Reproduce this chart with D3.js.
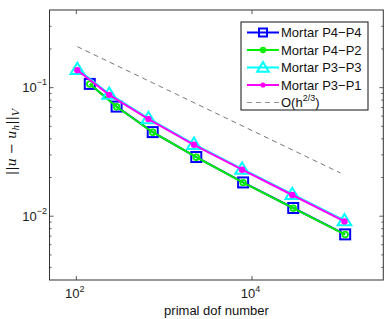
<!DOCTYPE html>
<html>
<head>
<meta charset="utf-8">
<script src="https://cdn.jsdelivr.net/npm/d3@7"></script>
<style>
  body { margin: 0; background: #fff; }
  svg { display: block; font-family: "Liberation Sans", Arial, sans-serif; }
</style>
</head>
<body>
<svg id="chart" width="390" height="319"></svg>
<script>
// dof counts
const dofP4 = [144, 291, 750, 2350, 8020, 29850, 116400];
const dofP3 = [104, 240, 670, 2210, 7810, 29100, 114300];

const errP4P4 = [0.106, 0.0706, 0.0447, 0.0286, 0.01815, 0.01148, 0.00716];
const errP4P2 = [0.1058, 0.0704, 0.0446, 0.0285, 0.0181, 0.01145, 0.00714];
const errP3P3 = [0.138, 0.0885, 0.0572, 0.0361, 0.0231, 0.0147, 0.00918];
const errP3P1 = [0.1355, 0.0871, 0.0564, 0.0356, 0.0228, 0.01449, 0.00903];

// reference slope line, two end points
const refX = [104, 102600];
const refY = [0.2065, 0.0215];

const xTicks = [1e2, 1e4];
const yTicks = [1e-2, 1e-1];
const yMinor = [];
[1e-3, 1e-2, 1e-1].forEach(p => { for (let k = 2; k <= 9; k++) yMinor.push(p * k); });

const series = [
  { name: "Mortar P4\u2212P4", x: dofP4, y: errP4P4, color: "#0000ff", marker: "square" },
  { name: "Mortar P4\u2212P2", x: dofP4, y: errP4P2, color: "#00ee00", marker: "circle" },
  { name: "Mortar P3\u2212P3", x: dofP3, y: errP3P3, color: "#00ffff", marker: "triangle" },
  { name: "Mortar P3\u2212P1", x: dofP3, y: errP3P1, color: "#ff00ff", marker: "dot" }
];

const svg = d3.select("#chart");
const L = 49.5, R = 383.3, T = 10, B = 280;

const x = d3.scaleLog().domain([Math.pow(10, 1.7), Math.pow(10, 5.5)]).range([L, R]);
const y = d3.scaleLog().domain([Math.pow(10, -2.5), Math.pow(10, -0.4)]).range([B, T]);

svg.append("defs").append("clipPath").attr("id", "clip")
  .append("rect").attr("x", L).attr("y", T).attr("width", R - L).attr("height", B - T);

// axes, ticks pointing inward
function styleAxis(g) {
  g.select(".domain").remove();
  g.selectAll(".tick line").attr("stroke", "#333").attr("stroke-width", 0.8);
}
svg.append("g").attr("transform", `translate(0,${B})`)
  .call(d3.axisBottom(x).tickValues(xTicks).tickSize(-4).tickFormat("")).call(styleAxis);
svg.append("g").attr("transform", `translate(0,${T})`)
  .call(d3.axisTop(x).tickValues(xTicks).tickSize(-4).tickFormat("")).call(styleAxis);
svg.append("g").attr("transform", `translate(${L},0)`)
  .call(d3.axisLeft(y).tickValues(yTicks).tickSize(-4).tickFormat("")).call(styleAxis);
svg.append("g").attr("transform", `translate(${R},0)`)
  .call(d3.axisRight(y).tickValues(yTicks).tickSize(-4).tickFormat("")).call(styleAxis);
svg.append("g").attr("transform", `translate(${L},0)`)
  .call(d3.axisLeft(y).tickValues(yMinor.filter(v => v >= y.domain()[0] && v <= y.domain()[1])).tickSize(-2).tickFormat("")).call(styleAxis);
svg.append("g").attr("transform", `translate(${R},0)`)
  .call(d3.axisRight(y).tickValues(yMinor.filter(v => v >= y.domain()[0] && v <= y.domain()[1])).tickSize(-2).tickFormat("")).call(styleAxis);

// tick labels with superscripts
xTicks.forEach(v => {
  const t = svg.append("text").attr("x", x(v) - 1).attr("y", 297.5)
    .attr("text-anchor", "middle").attr("font-size", 13).attr("fill", "#222");
  t.append("tspan").text("10");
  t.append("tspan").attr("dy", -6).attr("font-size", 9).text(Math.round(Math.log10(v)));
});
yTicks.forEach(v => {
  const t = svg.append("text").attr("x", 47).attr("y", y(v) + 5)
    .attr("text-anchor", "end").attr("font-size", 13).attr("fill", "#222");
  t.append("tspan").text("10");
  t.append("tspan").attr("dy", -7).attr("font-size", 9).text("\u2212" + Math.abs(Math.round(Math.log10(v))));
});

// frame
svg.append("rect").attr("x", L).attr("y", T).attr("width", R - L).attr("height", B - T)
  .attr("fill", "none").attr("stroke", "#333").attr("stroke-width", 1);

const plot = svg.append("g").attr("clip-path", "url(#clip)");

// reference line
plot.append("path")
  .datum(refX.map((v, i) => [v, refY[i]]))
  .attr("d", d3.line().x(d => x(d[0])).y(d => y(d[1])))
  .attr("fill", "none").attr("stroke", "#555").attr("stroke-width", 0.8)
  .attr("stroke-dasharray", "5,4");

function drawMarker(g, type, color, cx, cy, s) {
  s = s || 1;
  if (type === "square") {
    g.append("rect").attr("x", cx - 5 * s).attr("y", cy - 5 * s).attr("width", 10 * s).attr("height", 10 * s)
      .attr("fill", "none").attr("stroke", color).attr("stroke-width", 2);
  } else if (type === "circle") {
    g.append("circle").attr("cx", cx).attr("cy", cy).attr("r", 2.8 * s)
      .attr("fill", "none").attr("stroke", color).attr("stroke-width", 1.8);
  } else if (type === "triangle") {
    const h = 6.5 * s;
    g.append("path").attr("d", `M${cx},${cy - h}L${cx + h * 1.05},${cy + h * 0.75}L${cx - h * 1.05},${cy + h * 0.75}Z`)
      .attr("fill", "none").attr("stroke", color).attr("stroke-width", 2);
  } else if (type === "dot") {
    g.append("circle").attr("cx", cx).attr("cy", cy).attr("r", 3.2 * s).attr("fill", color);
  }
}

const line = d3.line().x(d => x(d[0])).y(d => y(d[1]));
series.forEach(s => {
  const pts = s.x.map((v, i) => [v, s.y[i]]);
  const g = plot.append("g");
  g.append("path").datum(pts).attr("d", line)
    .attr("fill", "none").attr("stroke", s.color).attr("stroke-width", 2);
  pts.forEach(p => drawMarker(g, s.marker, s.color, x(p[0]), y(p[1])));
});

// legend
const lg = svg.append("g");
lg.append("rect").attr("x", 241).attr("y", 22).attr("width", 127).attr("height", 88)
  .attr("fill", "#fff").attr("stroke", "#111").attr("stroke-width", 1);
const rowY = [32.5, 50, 67.5, 85, 102.5];
series.forEach((s, i) => {
  lg.append("line").attr("x1", 247).attr("x2", 279).attr("y1", rowY[i]).attr("y2", rowY[i])
    .attr("stroke", s.color).attr("stroke-width", 2);
  drawMarker(lg, s.marker, s.color, 263, rowY[i], s.marker === "square" ? 0.8 : (s.marker === "triangle" ? 0.85 : 0.8));
  lg.append("text").attr("x", 281).attr("y", rowY[i] + 4.5).attr("font-size", 13).attr("fill", "#111").text(s.name);
});
lg.append("line").attr("x1", 247).attr("x2", 279).attr("y1", rowY[4]).attr("y2", rowY[4])
  .attr("stroke", "#777").attr("stroke-width", 0.8).attr("stroke-dasharray", "5,4");
const ot = lg.append("text").attr("x", 281).attr("y", rowY[4] + 4.5).attr("font-size", 13).attr("fill", "#111");
ot.append("tspan").text("O(h");
ot.append("tspan").attr("dy", -6).attr("font-size", 9).text("2/3");
ot.append("tspan").attr("dy", 6).text(")");

// axis titles
svg.append("text").attr("x", 216.5).attr("y", 315).attr("text-anchor", "middle")
  .attr("font-size", 13).attr("fill", "#111").text("primal dof number");

const yl = svg.append("text").attr("transform", "translate(16,142) rotate(-90)")
  .attr("text-anchor", "middle").attr("font-size", 13).attr("fill", "#111")
  .attr("font-family", "'DejaVu Serif', 'Liberation Serif', serif");
yl.append("tspan").text("||");
yl.append("tspan").attr("font-style", "italic").text("u");
yl.append("tspan").text(" \u2212 ");
yl.append("tspan").attr("font-style", "italic").text("u");
yl.append("tspan").attr("font-style", "italic").attr("font-size", 9).attr("dy", 3).text("h");
yl.append("tspan").attr("dy", -3).text("||");
yl.append("tspan").attr("font-style", "italic").attr("font-size", 10).attr("dy", 3).text("V");
</script>
</body>
</html>
